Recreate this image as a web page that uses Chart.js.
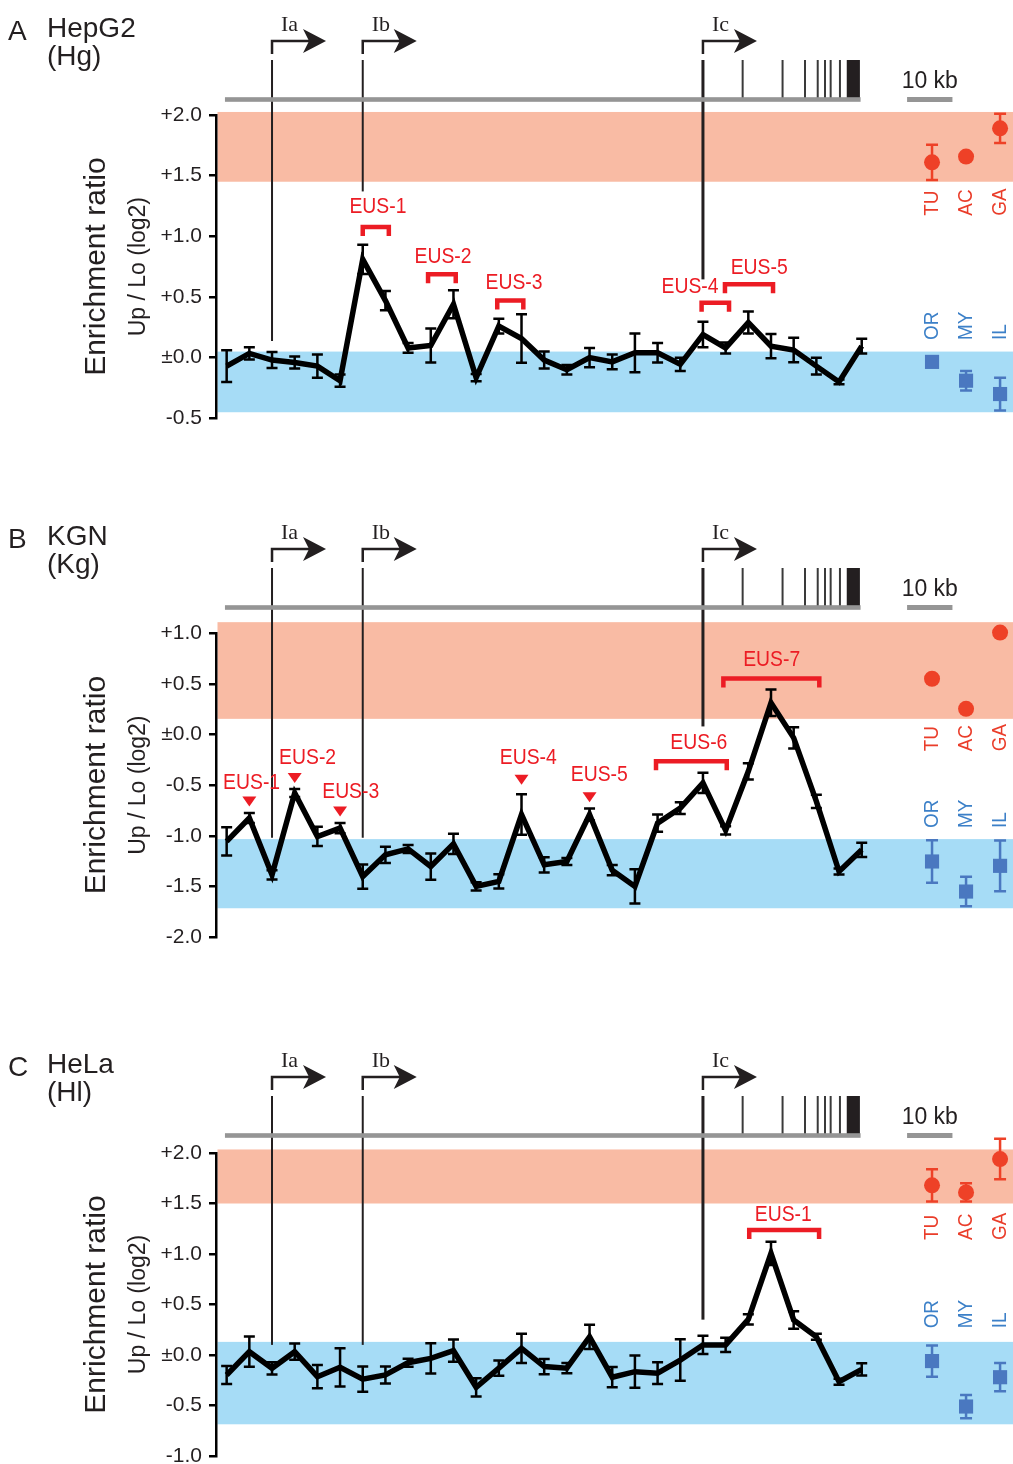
<!DOCTYPE html>
<html lang="en">
<head>
<meta charset="utf-8">
<title>EUS enrichment ratio</title>
<script src="https://cdn.jsdelivr.net/npm/chart.js@4.4.1/dist/chart.umd.min.js"></script>
<style>
  html, body { margin: 0; padding: 0; background: #fff; overflow: hidden; }
  #page { position: relative; width: 1013px; height: 1464px; overflow: hidden; }
  #page canvas { position: absolute; left: 0; }
</style>
</head>
<body>
<div id="page">
  <canvas id="panelA" width="1013" height="460" style="top:0"></canvas>
  <canvas id="panelB" width="1013" height="460" style="top:508px"></canvas>
  <canvas id="panelC" width="1013" height="460" style="top:1036px"></canvas>
</div>
<script>
// Up/Lo enrichment (log2) for the 29 fragments along the locus, mean and error
const hgMean = [-0.07, 0.035, -0.02, -0.04, -0.07, -0.19, 0.81, 0.47, 0.08, 0.10, 0.44, -0.165, 0.26, 0.157, -0.02,
  -0.10, 0.0, -0.035, 0.04, 0.04, -0.055, 0.19, 0.08, 0.29, 0.095, 0.063, -0.07, -0.20, 0.095];
const hgErr = [0.13, 0.05, 0.066, 0.05, 0.095, 0.05, 0.12, 0.08, 0.04, 0.14, 0.115, 0.03, 0.06, 0.2, 0.07,
  0.04, 0.08, 0.06, 0.16, 0.08, 0.055, 0.105, 0.045, 0.09, 0.1, 0.1, 0.07, 0.02, 0.06];

const kgMean = [-1.056, -0.825, -1.386, -0.577, -1.007, -0.924, -1.403, -1.188, -1.13, -1.304, -1.08, -1.50, -1.45, -0.79, -1.287,
  -1.254, -0.79, -1.34, -1.50, -0.875, -0.726, -0.478, -0.947, -0.363, 0.314, -0.033, -0.66, -1.353, -1.139];
const kgErr = [0.14, 0.05, 0.045, 0.04, 0.095, 0.05, 0.12, 0.08, 0.04, 0.13, 0.1, 0.04, 0.07, 0.2, 0.075,
  0.035, 0.06, 0.05, 0.17, 0.085, 0.058, 0.1, 0.04, 0.08, 0.13, 0.105, 0.066, 0.03, 0.07];

const hlMean = [-0.198, 0.033, -0.132, 0.033, -0.215, -0.122, -0.24, -0.198, -0.076, -0.033, 0.043, -0.32, -0.13, 0.066, -0.115,
  -0.13, 0.18, -0.22, -0.165, -0.18, -0.05, 0.1, 0.1, 0.353, 1.007, 0.347, 0.18, -0.264, -0.142];
const hlErr = [0.09, 0.15, 0.06, 0.08, 0.115, 0.19, 0.125, 0.085, 0.04, 0.15, 0.11, 0.09, 0.075, 0.145, 0.075,
  0.05, 0.12, 0.1, 0.16, 0.107, 0.206, 0.09, 0.07, 0.05, 0.115, 0.087, 0.03, 0.03, 0.06];

// tissue reference values
const tissueRed = ['TU', 'AC', 'GA'];
const tissueBlue = ['OR', 'MY', 'IL'];
const hgRed = [1.61, 1.657, 1.89], hgRedErr = [0.145, 0.02, 0.12];
const hgBlue = [-0.035, -0.19, -0.30], hgBlueErr = [0.03, 0.08, 0.135];
const kgRed = [0.551, 0.254, 1.007], kgRedErr = [0, 0.03, 0];
const kgBlue = [-1.254, -1.551, -1.297], kgBlueErr = [0.21, 0.145, 0.25];
const hlRed = [1.68, 1.61, 1.94], hlRedErr = [0.16, 0.09, 0.2];
const hlBlue = [-0.06, -0.51, -0.22], hlBlueErr = [0.155, 0.115, 0.14];

// y tick labels
const hgTicks = [-0.5, 0, 0.5, 1, 1.5, 2];
const kgTicks = [-2, -1.5, -1, -0.5, 0, 0.5, 1];
const hlTicks = [-1, -0.5, 0, 0.5, 1, 1.5, 2];

// gene map, in fragment units on the x axis
const promoters = ['Ia', 'Ib', 'Ic'];
const promoterX = [2, 6, 21];
const exonX = [22.75, 24.51, 25.5, 26.06, 26.38, 26.63, 27.04];
const lastExon = [27.34, 27.92];
const geneSpan = [-0.075, 27.95];
const scaleBar = [30, 32];
const tissueX = [31.1, 32.6, 34.1];

const FONT = '"Liberation Sans", Arial, sans-serif';
const SERIF = '"Liberation Serif", "Times New Roman", serif';
const INK = '#231f20';
const RED_PT = '#ee4127', BLUE_PT = '#4a78c0';
const RED_TXT = '#ea3d2a', BLUE_TXT = '#3c80c8';
const EUS_RED = '#ec1c24';

const panels = [
  {
    id: 'panelA', letter: 'A', name: 'HepG2', abbr: '(Hg)',
    mean: hgMean, err: hgErr, red: hgRed, redErr: hgRedErr, blue: hgBlue, blueErr: hgBlueErr, ticks: hgTicks,
    top: 115, bottom: 41.7, redBand: [1.45, 2.025], blueBand: [-0.45, 0.05],
    promoterEnd: [0.137, 1.37, 0.645], labelStart: [1.17, 0.145],
    brackets: [
      { text: 'EUS-1', tx: 6.67, ty: 1.239, x0: 6.0, x1: 7.15, y: 1.077 },
      { text: 'EUS-2', tx: 9.54, ty: 0.827, x0: 8.88, x1: 10.1, y: 0.687 },
      { text: 'EUS-3', tx: 12.67, ty: 0.613, x0: 11.93, x1: 13.08, y: 0.472 },
      { text: 'EUS-4', tx: 20.43, ty: 0.58, x0: 20.94, x1: 22.15, y: 0.453 },
      { text: 'EUS-5', tx: 23.48, ty: 0.742, x0: 21.97, x1: 24.09, y: 0.604 }
    ],
    marks: []
  },
  {
    id: 'panelB', letter: 'B', name: 'KGN', abbr: '(Kg)',
    mean: kgMean, err: kgErr, red: kgRed, redErr: kgRedErr, blue: kgBlue, blueErr: kgBlueErr, ticks: kgTicks,
    top: 125.3, bottom: 31, redBand: [0.155, 1.11], blueBand: [-1.716, -1.033],
    promoterEnd: [-1.02, -1.02, 0.08], labelStart: [-0.165, -0.924],
    brackets: [
      { text: 'EUS-6', tx: 20.82, ty: -0.082, x0: 18.93, x1: 22.05, y: -0.264 },
      { text: 'EUS-7', tx: 24.03, ty: 0.736, x0: 21.9, x1: 26.13, y: 0.554 }
    ],
    marks: [
      { text: 'EUS-1', tx: 1.1, ty: -0.478, at: 1, tip: -0.71 },
      { text: 'EUS-2', tx: 3.57, ty: -0.23, at: 3, tip: -0.478 },
      { text: 'EUS-3', tx: 5.47, ty: -0.57, at: 5, tip: -0.81 },
      { text: 'EUS-4', tx: 13.3, ty: -0.23, at: 13, tip: -0.495 },
      { text: 'EUS-5', tx: 16.43, ty: -0.396, at: 16, tip: -0.67 }
    ]
  },
  {
    id: 'panelC', letter: 'C', name: 'HeLa', abbr: '(Hl)',
    mean: hlMean, err: hlErr, red: hlRed, redErr: hlRedErr, blue: hlBlue, blueErr: hlBlueErr, ticks: hlTicks,
    top: 117, bottom: 40, redBand: [1.50, 2.035], blueBand: [-0.686, 0.13],
    promoterEnd: [0.10, 0.10, 0.35], labelStart: [1.139, 0.264],
    brackets: [
      { text: 'EUS-1', tx: 24.54, ty: 1.386, x0: 23.04, x1: 26.12, y: 1.238 }
    ],
    marks: []
  }
];

function fmtTick(v) {
  if (Math.abs(v) < 1e-9) return '\u00b10.0';
  return (v > 0 ? '+' : '') + v.toFixed(1);
}

function squeezeText(ctx, text, x, y, sx, rot) {
  ctx.save();
  ctx.translate(x, y);
  if (rot) ctx.rotate(rot);
  ctx.scale(sx, 1);
  ctx.fillText(text, 0, 0);
  ctx.restore();
}

function decor(p) {
  return {
    id: 'decor',
    beforeDraw(chart) {
      const { ctx, chartArea: a, scales: { y } } = chart;
      ctx.save();
      [[p.redBand, '#f9bba4'], [p.blueBand, '#a6dcf6']].forEach(([band, col]) => {
        const t = y.getPixelForValue(band[1]), b = y.getPixelForValue(band[0]);
        ctx.fillStyle = col;
        ctx.fillRect(a.left + 1.5, t, a.right - a.left, b - t);
      });
      ctx.restore();
    },
    beforeDatasetsDraw(chart) {
      const { ctx, scales: { x, y } } = chart;
      const barY = 99.5;
      ctx.save();
      // promoters: long guide lines and arrows
      ctx.strokeStyle = INK;
      ctx.fillStyle = INK;
      promoterX.forEach((px, k) => {
        const X = x.getPixelForValue(px);
        ctx.lineWidth = k === 2 ? 3 : 2;
        ctx.beginPath();
        ctx.moveTo(X, 60);
        ctx.lineTo(X, y.getPixelForValue(p.promoterEnd[k]));
        ctx.stroke();
        ctx.lineWidth = 2.5;
        ctx.beginPath();
        ctx.moveTo(X, 54);
        ctx.lineTo(X, 41);
        ctx.lineTo(X + 38, 41);
        ctx.stroke();
        ctx.beginPath();
        ctx.moveTo(X + 54, 41);
        ctx.lineTo(X + 31, 29);
        ctx.lineTo(X + 37, 41);
        ctx.lineTo(X + 31, 53);
        ctx.closePath();
        ctx.fill();
      });
      // downstream exons
      ctx.strokeStyle = '#3a3a3a';
      ctx.lineWidth = 2;
      exonX.forEach(ex => {
        const X = x.getPixelForValue(ex);
        ctx.beginPath();
        ctx.moveTo(X, 60);
        ctx.lineTo(X, barY);
        ctx.stroke();
      });
      const e0 = x.getPixelForValue(lastExon[0]), e1 = x.getPixelForValue(lastExon[1]);
      ctx.fillStyle = INK;
      ctx.fillRect(e0, 60, e1 - e0, barY - 60);
      // gene bar and 10 kb scale
      ctx.fillStyle = '#959595';
      const g0 = x.getPixelForValue(geneSpan[0]), g1 = x.getPixelForValue(geneSpan[1]);
      ctx.fillRect(g0, barY - 2.3, g1 - g0, 4.6);
      const s0 = x.getPixelForValue(scaleBar[0]), s1 = x.getPixelForValue(scaleBar[1]);
      ctx.fillRect(s0, barY - 2.5, s1 - s0, 5);

      // error bars
      chart.data.datasets.forEach((ds, di) => {
        if (!ds.errors) return;
        const meta = chart.getDatasetMeta(di);
        ctx.strokeStyle = ds.errColor;
        ctx.lineWidth = 2.5;
        meta.data.forEach((pt, j) => {
          const e = ds.errors[j];
          if (!e) return;
          const v = ds.data[j].y;
          const t = y.getPixelForValue(v + e), b = y.getPixelForValue(v - e);
          const w = ds.capW / 2;
          ctx.beginPath();
          ctx.moveTo(pt.x, t); ctx.lineTo(pt.x, b);
          ctx.moveTo(pt.x - w, t); ctx.lineTo(pt.x + w, t);
          ctx.moveTo(pt.x - w, b); ctx.lineTo(pt.x + w, b);
          ctx.stroke();
        });
      });
      ctx.restore();
    },
    afterDatasetsDraw(chart) {
      const { ctx, scales: { x, y } } = chart;
      ctx.save();
      ctx.strokeStyle = EUS_RED;
      ctx.fillStyle = EUS_RED;
      ctx.font = '22px ' + FONT;
      ctx.textAlign = 'center';
      ctx.textBaseline = 'middle';
      ctx.lineWidth = 4.5;
      ctx.lineJoin = 'miter';
      p.brackets.forEach(br => {
        const X0 = x.getPixelForValue(br.x0), X1 = x.getPixelForValue(br.x1), Y = y.getPixelForValue(br.y);
        ctx.beginPath();
        ctx.moveTo(X0, Y + 9);
        ctx.lineTo(X0, Y);
        ctx.lineTo(X1, Y);
        ctx.lineTo(X1, Y + 9);
        ctx.stroke();
        squeezeText(ctx, br.text, x.getPixelForValue(br.tx), y.getPixelForValue(br.ty), 0.88);
      });
      p.marks.forEach(m => {
        const X = x.getPixelForValue(m.at), T = y.getPixelForValue(m.tip);
        ctx.beginPath();
        ctx.moveTo(X, T);
        ctx.lineTo(X - 7, T - 10);
        ctx.lineTo(X + 7, T - 10);
        ctx.closePath();
        ctx.fill();
        squeezeText(ctx, m.text, x.getPixelForValue(m.tx), y.getPixelForValue(m.ty), 0.88);
      });
      ctx.restore();
    },
    afterDraw(chart) {
      const { ctx, chartArea: a, scales: { x, y } } = chart;
      const mid = (a.top + a.bottom) / 2;
      ctx.save();
      ctx.fillStyle = INK;
      ctx.textBaseline = 'alphabetic';
      ctx.textAlign = 'left';
      ctx.font = '28px ' + FONT;
      ctx.fillText(p.letter, 8, 40);
      ctx.fillText(p.name, 47, 37);
      ctx.fillText(p.abbr, 47, 65);

      ctx.textAlign = 'center';
      ctx.font = '30px ' + FONT;
      squeezeText(ctx, 'Enrichment ratio', 105, mid, 1, -Math.PI / 2);
      ctx.font = '23px ' + FONT;
      squeezeText(ctx, 'Up / Lo (log2)', 145, mid, 1, -Math.PI / 2);

      ctx.font = '23px ' + FONT;
      ctx.fillText('10 kb', x.getPixelForValue((scaleBar[0] + scaleBar[1]) / 2), 88);

      ctx.textAlign = 'left';
      ctx.font = '22px ' + SERIF;
      promoters.forEach((name, k) => {
        ctx.fillText(name, x.getPixelForValue(promoterX[k]) + 9, 31);
      });

      ctx.font = '21px ' + FONT;
      ctx.textBaseline = 'middle';
      [tissueRed, tissueBlue].forEach((names, g) => {
        ctx.fillStyle = g ? BLUE_TXT : RED_TXT;
        const y0 = y.getPixelForValue(p.labelStart[g]);
        names.forEach((n, k) => {
          squeezeText(ctx, n, x.getPixelForValue(tissueX[k]), y0, 0.9, -Math.PI / 2);
        });
      });
      ctx.restore();
    }
  };
}

panels.forEach(p => {
  const canvas = document.getElementById(p.id);
  new Chart(canvas, {
    type: 'line',
    data: {
      datasets: [
        {
          data: p.mean.map((v, i) => ({ x: i, y: v })),
          errors: p.err, errColor: '#000', capW: 11,
          borderColor: '#000', borderWidth: 5.5, pointRadius: 0, tension: 0, clip: false
        },
        {
          data: p.red.map((v, k) => ({ x: tissueX[k], y: v })),
          errors: p.redErr, errColor: RED_PT, capW: 12,
          showLine: false, pointStyle: 'circle', pointRadius: 8,
          pointBackgroundColor: RED_PT, pointBorderWidth: 0, clip: false
        },
        {
          data: p.blue.map((v, k) => ({ x: tissueX[k], y: v })),
          errors: p.blueErr, errColor: BLUE_PT, capW: 12,
          showLine: false, pointStyle: 'rect', pointRadius: 10,
          pointBackgroundColor: BLUE_PT, pointBorderWidth: 0, clip: false
        }
      ]
    },
    options: {
      responsive: false,
      animation: false,
      devicePixelRatio: 1,
      events: [],
      layout: { autoPadding: false, padding: { left: 0, right: 0, top: p.top, bottom: p.bottom } },
      plugins: { legend: { display: false }, tooltip: { enabled: false } },
      scales: {
        x: { type: 'linear', display: false, min: -0.47, max: 34.67 },
        y: {
          min: p.ticks[0], max: p.ticks[p.ticks.length - 1],
          afterFit(scale) { scale.width = 216; },
          afterBuildTicks(scale) { scale.ticks = p.ticks.map(v => ({ value: v })); },
          ticks: { callback: fmtTick, color: INK, padding: 7, font: { size: 21, family: FONT } },
          grid: { drawOnChartArea: false, drawTicks: true, tickLength: 7, color: '#000', lineWidth: 2.5 },
          border: { display: true, color: '#000', width: 2.5 }
        }
      }
    },
    plugins: [decor(p)]
  });
});
</script>
</body>
</html>
